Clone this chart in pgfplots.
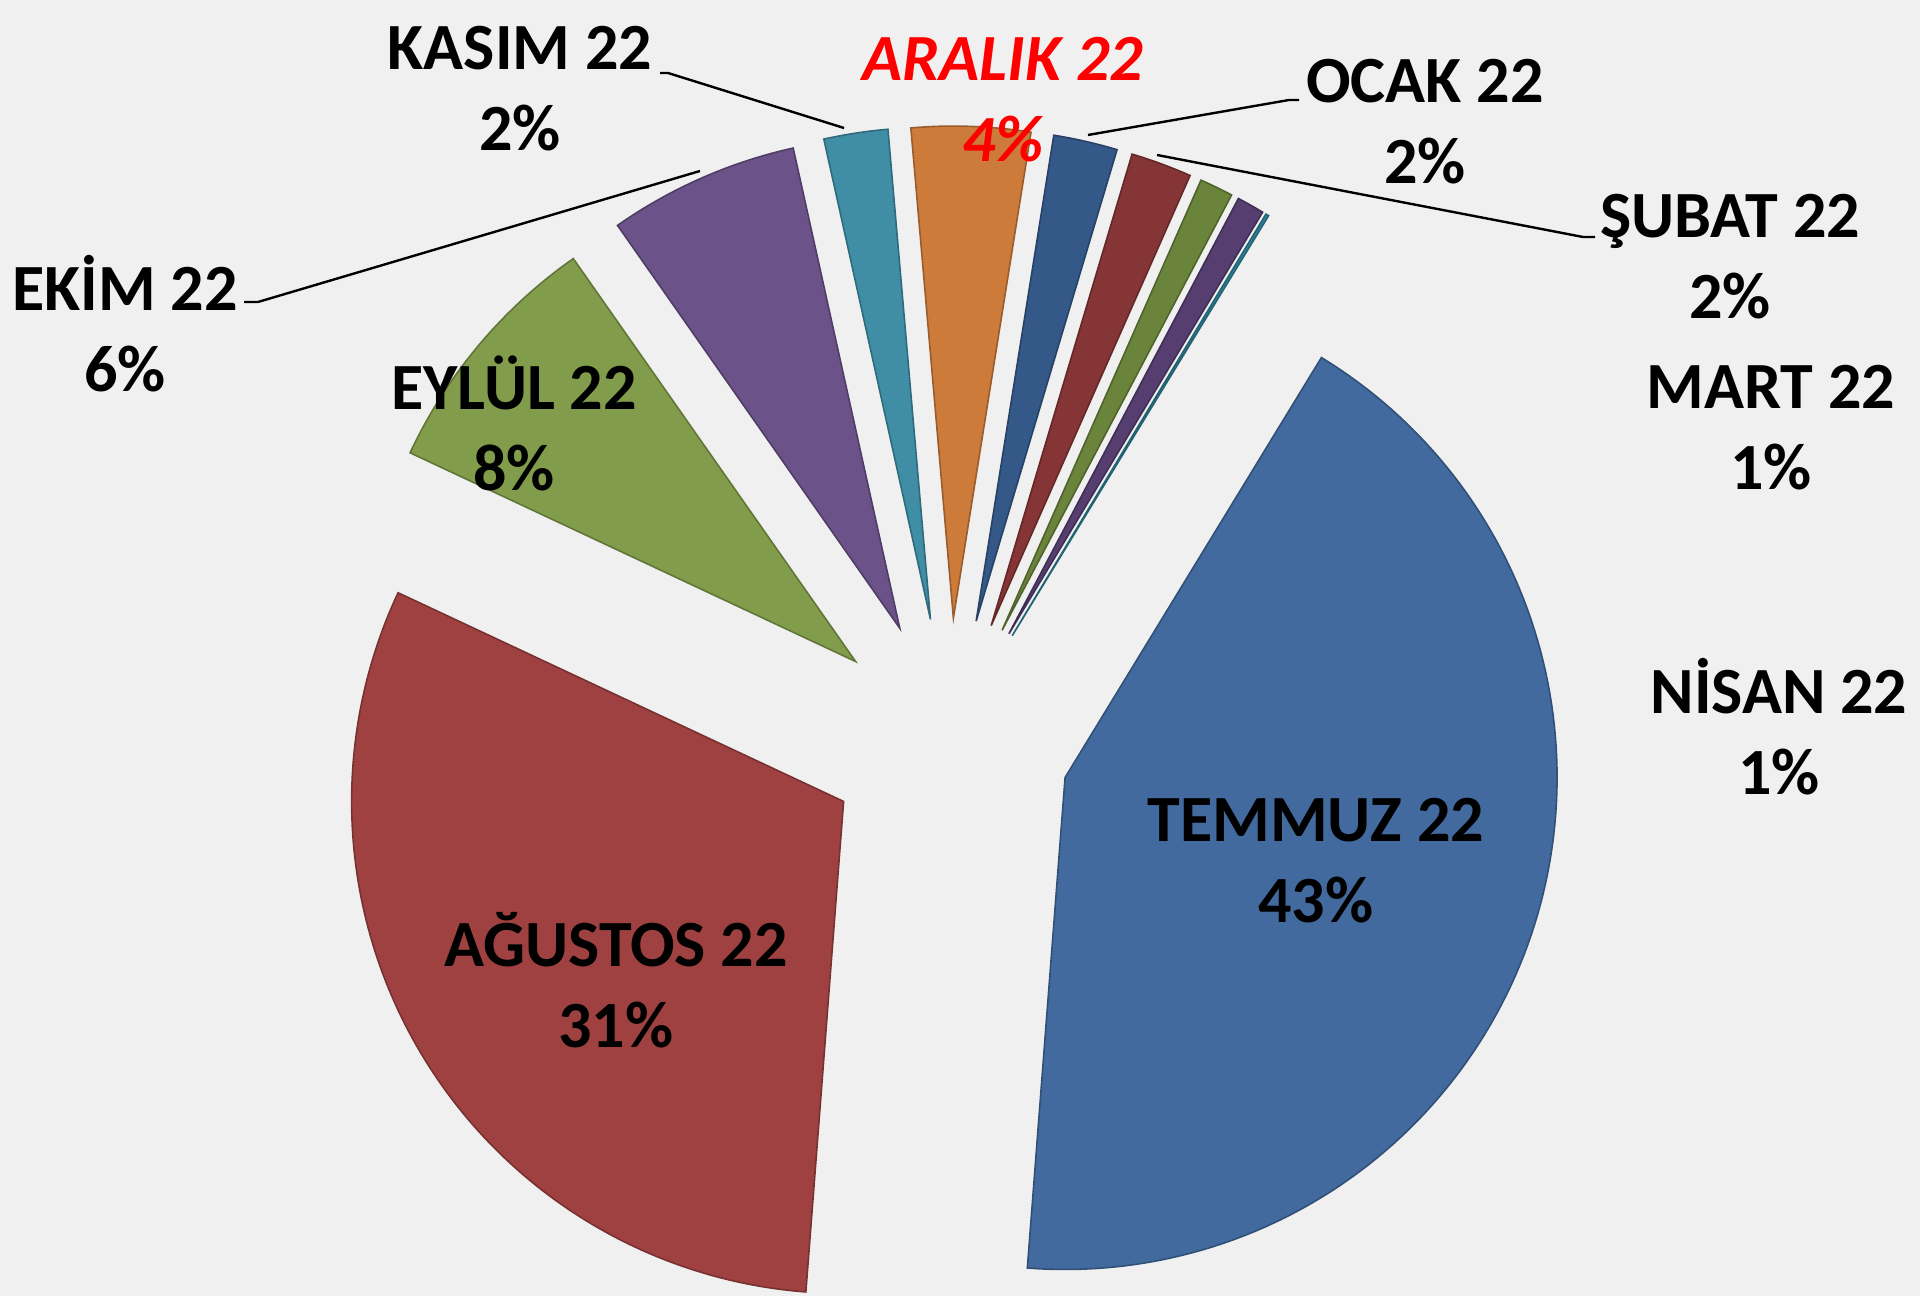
\documentclass[border=0pt]{standalone}
\usepackage{pgfplots}
\pgfplotsset{compat=1.18}
\usepackage{fontspec}
\setmainfont{Carlito}
\definecolor{bgc}{RGB}{240,240,240}
\definecolor{cTem}{RGB}{66,106,158}
\definecolor{cAgu}{RGB}{160,65,65}
\definecolor{cEyl}{RGB}{129,157,75}
\definecolor{cEki}{RGB}{107,82,136}
\definecolor{cKas}{RGB}{64,142,166}
\definecolor{cAra}{RGB}{205,123,59}
\definecolor{cOca}{RGB}{52,88,135}
\definecolor{cSub}{RGB}{133,53,53}
\definecolor{cMar}{RGB}{107,132,60}
\definecolor{cNis}{RGB}{86,63,112}
\definecolor{cMay}{RGB}{47,131,153}
% pie geometry (pixel units of a 1920x1296 frame)
\newcommand\piecum{0}
\newcommand\pieR{492}
\newcommand\pieoff{122}
\newcommand\piestart{58.6}
\newcommand{\pieslice}[2]{% value (percent), colour
  \pgfmathsetmacro\aA{\piestart-3.6*\piecum}%
  \pgfmathsetmacro\aB{\piestart-3.6*(\piecum+#1)}%
  \pgfmathsetmacro\aM{(\aA+\aB)/2}%
  \pgfmathsetmacro\cx{949+\pieoff*cos(\aM)}%
  \pgfmathsetmacro\cy{556+\pieoff*sin(\aM)}%
  \pgfmathsetmacro\newcum{\piecum+#1}%
  \global\let\piecum\newcum
  \edef\doslice{\noexpand\addplot[fill=#2, draw=#2!75!black, line width=0.4pt, domain=\aB:\aA, samples=120] ({\cx+\pieR*cos(x)},{\cy+\pieR*sin(x)}) -- (axis cs:\cx,\cy) -- cycle;}%
  \doslice
}
\begin{document}
\begin{tikzpicture}
\begin{axis}[
  width=480pt, height=324pt, scale only axis,
  xmin=0, xmax=1920, ymin=0, ymax=1296,
  hide axis, clip=false,
]
\fill[bgc] (axis cs:0,0) rectangle (axis cs:1920,1296);
% slices, clockwise from TEMMUZ
\pieslice{42.5}{cTem}% TEMMUZ 22
\pieslice{30.75}{cAgu}% AGUSTOS 22
\pieslice{8.3}{cEyl}% EYLUL 22
\pieslice{6.25}{cEki}% EKIM 22
\pieslice{2.1}{cKas}% KASIM 22
\pieslice{3.9}{cAra}% ARALIK 22
\pieslice{2.1}{cOca}% OCAK 22
\pieslice{2.0}{cSub}% SUBAT 22
\pieslice{1.1}{cMar}% MART 22
\pieslice{0.9}{cNis}% NISAN 22
\pieslice{0.1}{cMay}% remainder
% leader lines
\draw[line width=0.6pt] (axis cs:660,1223) -- (axis cs:668,1223) -- (axis cs:844,1168);
\draw[line width=0.6pt] (axis cs:244,994) -- (axis cs:258,994) -- (axis cs:700,1125);
\draw[line width=0.6pt] (axis cs:1299,1196) -- (axis cs:1289,1196) -- (axis cs:1088,1161);
\draw[line width=0.6pt] (axis cs:1595,1059) -- (axis cs:1583,1059) -- (axis cs:1157,1141);
% labels
\tikzset{lab/.style={align=center, inner sep=0pt, font=\fontsize{16.5}{20.25}\selectfont\bfseries}}
\node[lab] at (axis cs:1316,435) {TEMMUZ 22\\43\%};
\node[lab] at (axis cs:616,316) {AĞUSTOS 22\\31\%};
\node[lab] at (axis cs:514,873) {EYLÜL 22\\8\%};
\node[lab] at (axis cs:125,972) {EKİM 22\\6\%};
\node[lab] at (axis cs:520,1207) {KASIM 22\\2\%};
\node[lab, text=red, font=\fontsize{16.5}{20.25}\selectfont\bfseries\itshape] at (axis cs:1003,1196) {ARALIK 22\\4\%};
\node[lab] at (axis cs:1425,1174) {OCAK 22\\2\%};
\node[lab] at (axis cs:1730,1039) {ŞUBAT 22\\2\%};
\node[lab] at (axis cs:1771,868) {MART 22\\1\%};
\node[lab] at (axis cs:1779,569) {NİSAN 22\\1\%};
\end{axis}
\end{tikzpicture}
\end{document}
